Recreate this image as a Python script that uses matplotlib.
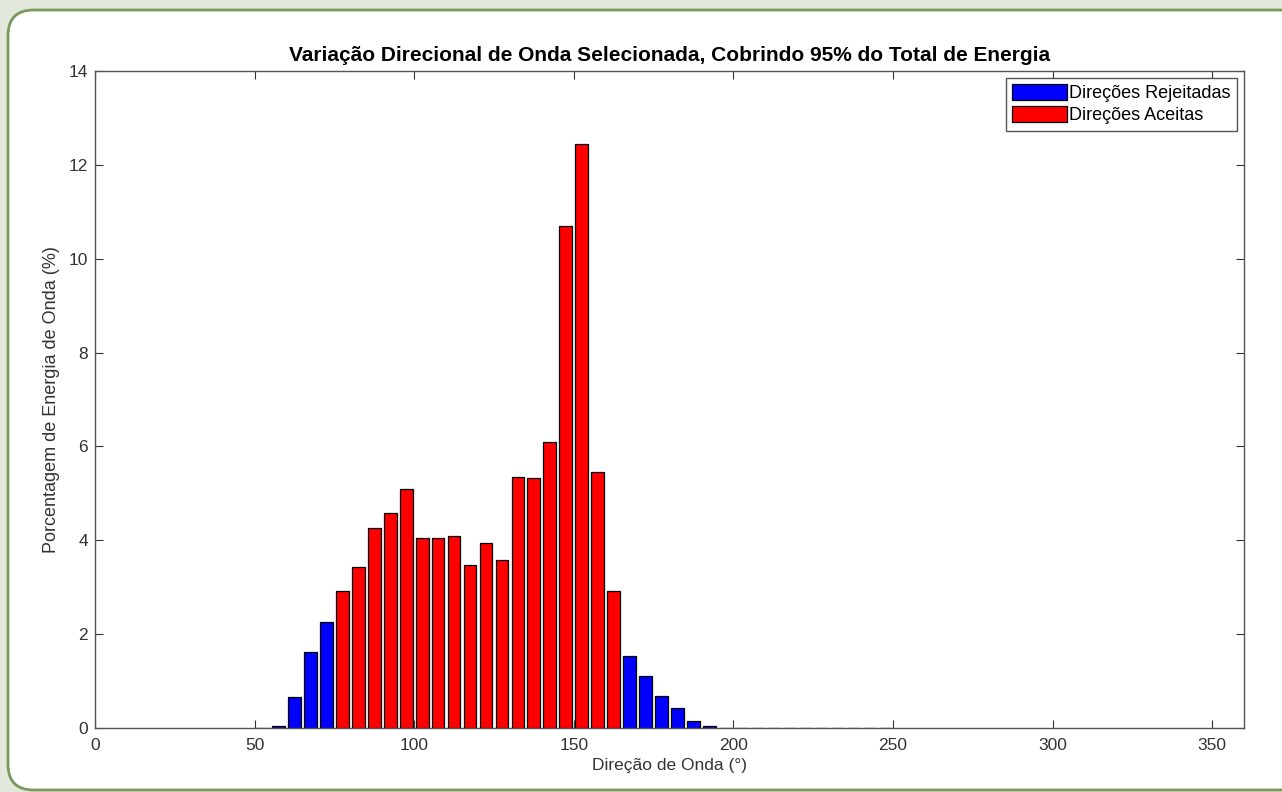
import numpy as np
import matplotlib
matplotlib.use("Agg")
import matplotlib.pyplot as plt
from matplotlib.patches import FancyBboxPatch

plt.rcParams['font.family'] = ['Liberation Sans', 'DejaVu Sans']

# centros das classes de direção (graus)
direcoes = np.arange(52.5, 250, 5)
# porcentagem de energia por classe
energia = [0.01, 0.05, 0.67, 1.62, 2.25,
           2.92, 3.43, 4.27, 4.58, 5.10, 4.05, 4.05, 4.10, 3.48, 3.95,
           3.57, 5.35, 5.33, 6.10, 10.69, 12.45, 5.45, 2.91,
           1.53, 1.11, 0.69, 0.43, 0.15, 0.05,
           0.01, 0.01, 0.01, 0.01, 0.01, 0.01, 0.01, 0.01, 0.01, 0.01, 0.01]
# direções aceitas (95% da energia)
aceita_min, aceita_max = 75, 165

energia = np.array(energia)
aceita = (direcoes > aceita_min) & (direcoes < aceita_max)

fig = plt.figure(figsize=(12.82, 7.92), dpi=100)
fig.patch.set_facecolor('#e2e9dc')
panel = FancyBboxPatch((8 / 1282, 2 / 792), 1.2, (782 - 2) / 792,
                       boxstyle="round,pad=0,rounding_size=0.02",
                       transform=fig.transFigure, facecolor='white',
                       edgecolor='#7a9a5c', linewidth=2, zorder=-10,
                       mutation_aspect=1282 / 792)
fig.patches.append(panel)

ax = fig.add_axes([95 / 1282, 64 / 792, (1244 - 95) / 1282, (728 - 71) / 792])
ax.bar(direcoes[~aceita], energia[~aceita], width=4.0, color='#0000ff',
       edgecolor='black', linewidth=0.9, label='Direções Rejeitadas')
ax.bar(direcoes[aceita], energia[aceita], width=4.0, color='#ff0000',
       edgecolor='black', linewidth=0.9, label='Direções Aceitas')

ax.set_xlim(0, 360)
ax.set_ylim(0, 14)
ax.set_xticks(range(0, 360, 50))
ax.set_yticks(range(0, 15, 2))
ax.tick_params(direction='in', top=True, right=True, length=6, width=0.8,
               colors='#333333', labelsize=12.5, labelcolor='#333333', pad=5)
ax.tick_params(axis='x', pad=7)
for s in ax.spines.values():
    s.set_color('#555555')
    s.set_linewidth(1.0)

ax.set_title('Variação Direcional de Onda Selecionada, Cobrindo 95% do Total de Energia',
             fontsize=15, fontweight='bold', pad=7)
ax.set_xlabel('Direção de Onda (°)', fontsize=12.5, color='#333333', labelpad=4)
ax.set_ylabel('Porcentagem de Energia de Onda (%)', fontsize=13, color='#333333', labelpad=6)

leg = ax.legend(loc='upper right', fontsize=13, fancybox=False, framealpha=1,
                edgecolor='#555555', borderaxespad=0.38, handlelength=3.0,
                handleheight=1.0, handletextpad=0.15, labelspacing=0.2,
                borderpad=0.35)
leg.get_frame().set_linewidth(1.0)

fig.savefig('out.png', dpi=100)
